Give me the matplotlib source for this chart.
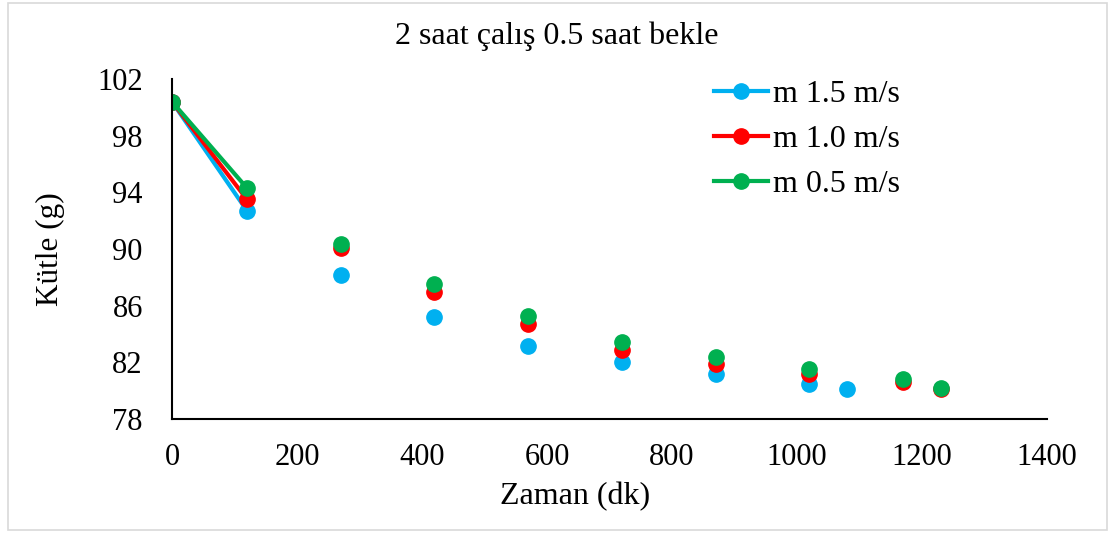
import numpy as np
from matplotlib import pyplot as plt
from matplotlib.patches import Rectangle

# zaman (dk) - NaN = bekleme arası, çizgi kopuyor
nan = np.nan
zaman_15 = [0, 120, 150, 270, 300, 420, 450, 570, 600, 720, 750, 870, 900, 1020, 1050, 1080]
kutle_15 = [100.4, 92.7, nan, 88.15, nan, 85.2, nan, 83.15, nan, 82.0, nan, 81.15, nan, 80.5, nan, 80.1]

zaman_10 = [0, 120, 150, 270, 300, 420, 450, 570, 600, 720, 750, 870, 900, 1020, 1050, 1170, 1200, 1230]
kutle_10 = [100.4, 93.5, nan, 90.05, nan, 86.95, nan, 84.7, nan, 82.85, nan, 81.85, nan, 81.2, nan, 80.6, nan, 80.15]

zaman_05 = zaman_10
kutle_05 = [100.4, 94.3, nan, 90.35, nan, 87.55, nan, 85.3, nan, 83.45, nan, 82.4, nan, 81.5, nan, 80.8, nan, 80.17]

seriler = [
    ("m 1.5 m/s", zaman_15, kutle_15, "#00B0F0"),
    ("m 1.0 m/s", zaman_10, kutle_10, "#FF0000"),
    ("m 0.5 m/s", zaman_05, kutle_05, "#00B050"),
]

plt.rcParams["font.family"] = ["Liberation Serif", "DejaVu Serif"]

fig = plt.figure(figsize=(11.13, 5.33), dpi=100)
ax = fig.add_axes([0.1545, 0.2139, 0.7862, 0.6379])

for ad, x, y, renk in seriler:
    ax.plot(x, y, color=renk, lw=3, marker="o", markersize=11, label=ad)

ax.set_xlim(0, 1400)
ax.set_ylim(78, 102)
ax.set_xticks(range(0, 1401, 200))
ax.set_yticks(range(78, 103, 4))
ax.tick_params(length=0, labelsize=22)
ax.tick_params(axis="x", pad=17)
ax.tick_params(axis="y", pad=21)
for s in ["top", "right"]:
    ax.spines[s].set_visible(False)
for s in ["left", "bottom"]:
    ax.spines[s].set_linewidth(1.5)
    ax.spines[s].set_color("black")

fig.text(575 / 1113, 1 - 497 / 533, "Zaman (dk)", ha="center", va="center", fontsize=23)
fig.text(50 / 1113, 1 - 249 / 533, "Kütle (g)", ha="center", va="center", rotation=90, fontsize=22.5)
fig.text(0.5, 1 - 36 / 533, "2 saat çalış 0.5 saat bekle", ha="center", va="center", fontsize=23)

fig.legend(loc="upper left", bbox_to_anchor=(714 / 1113, 1 - 80 / 533), frameon=False, fontsize=23,
           handlelength=1.7, handletextpad=0.15, labelspacing=0.48, borderpad=0, borderaxespad=0)

# dış çerçeve
fig.patches.append(Rectangle((8 / 1113, 3 / 533), 1099 / 1113, 527 / 533, transform=fig.transFigure,
                             fill=False, edgecolor="#d9d9d9", lw=1.2))

plt.savefig("out.png", dpi=100)
